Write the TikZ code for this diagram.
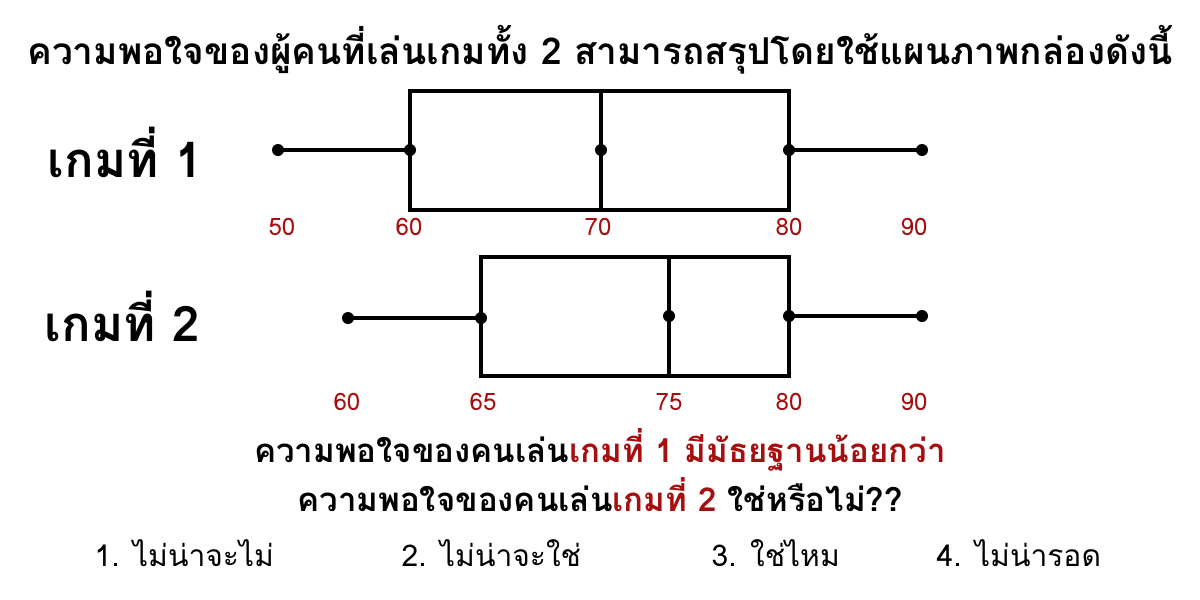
\documentclass[tikz,border=0pt]{standalone}
\usepackage{fontspec}
\newfontfamily\thai[Script=Thai]{Loma}
\definecolor{dred}{RGB}{165,15,15}
\begin{document}
\begin{tikzpicture}[x=1pt,y=-1pt,
  line width=3.3pt,
  dot/.style={circle,fill=black,inner sep=0pt,minimum size=12pt},
  numlab/.style={text=dred,font=\thai\fontsize{24}{26}\selectfont,inner sep=0pt},
  gamelab/.style={font=\thai\bfseries\fontsize{49}{54}\selectfont,inner sep=0pt},
  optlab/.style={font=\thai\fontsize{30}{34}\selectfont,inner sep=0pt,anchor=west},
  qlab/.style={font=\thai\bfseries\fontsize{33}{38}\selectfont,inner sep=0pt}]
\fill[white] (0,0) rectangle (1200,600);
\useasboundingbox (0,0) rectangle (1200,600);
% title
\node[font=\thai\bfseries\fontsize{37}{42}\selectfont,inner sep=0pt] (title) at (600,50) {ความพอใจของผู้คนที่เล่นเกมทั้ง 2 สามารถสรุปโดยใช้แผนภาพกล่องดังนี้};
% game labels
\node[gamelab] (g1) at (125,152) {เกมที่ 1};
\node[gamelab] (g2) at (122,316) {เกมที่ 2};
% box plot 1
\coordinate (b1tl) at (410,91);
\coordinate (b1br) at (789,210);
\coordinate (m1t) at (601,91);
\coordinate (m1b) at (601,210);
\draw (b1tl) rectangle (b1br);
\draw (m1t) -- (m1b);
\node[dot] (a1) at (278,150) {};
\node[dot] (a2) at (410,150) {};
\node[dot] (a3) at (601,150) {};
\node[dot] (a4) at (789,150) {};
\node[dot] (a5) at (922,150) {};
\draw (a1.center) -- (a2.center);
\draw (a4.center) -- (a5.center);
\node[numlab] (n11) at (282,227) {50};
\node[numlab] (n12) at (409,227) {60};
\node[numlab] (n13) at (598,227) {70};
\node[numlab] (n14) at (789,227) {80};
\node[numlab] (n15) at (914,227) {90};
% box plot 2
\coordinate (b2tl) at (481,257);
\coordinate (b2br) at (789,376);
\coordinate (m2t) at (669,257);
\coordinate (m2b) at (669,376);
\draw (b2tl) rectangle (b2br);
\draw (m2t) -- (m2b);
\node[dot] (c1) at (348,318) {};
\node[dot] (c2) at (481,318) {};
\node[dot] (c3) at (669,316) {};
\node[dot] (c4) at (789,316) {};
\node[dot] (c5) at (922,316) {};
\draw (c1.center) -- (c2.center);
\draw (c4.center) -- (c5.center);
\node[numlab] (n21) at (347,402) {60};
\node[numlab] (n22) at (483,402) {65};
\node[numlab] (n23) at (669,402) {75};
\node[numlab] (n24) at (789,402) {80};
\node[numlab] (n25) at (914,402) {90};
% question
\node[qlab] (q1) at (600,450) {ความพอใจของคนเล่น\textcolor{dred}{เกมที่ 1 มีมัธยฐานน้อยกว่า}};
\node[qlab] (q2) at (600,495) {ความพอใจของคนเล่น\textcolor{dred}{เกมที่ 2} ใช่หรือไม่??};
% options
\node[optlab] (o1) at (93,553) {1. ไม่น่าจะไม่};
\node[optlab] (o2) at (400,553) {2. ไม่น่าจะใช่};
\node[optlab] (o3) at (710,553) {3. ใช่ไหม};
\node[optlab] (o4) at (935,553) {4. ไม่น่ารอด};
\end{tikzpicture}
\end{document}
